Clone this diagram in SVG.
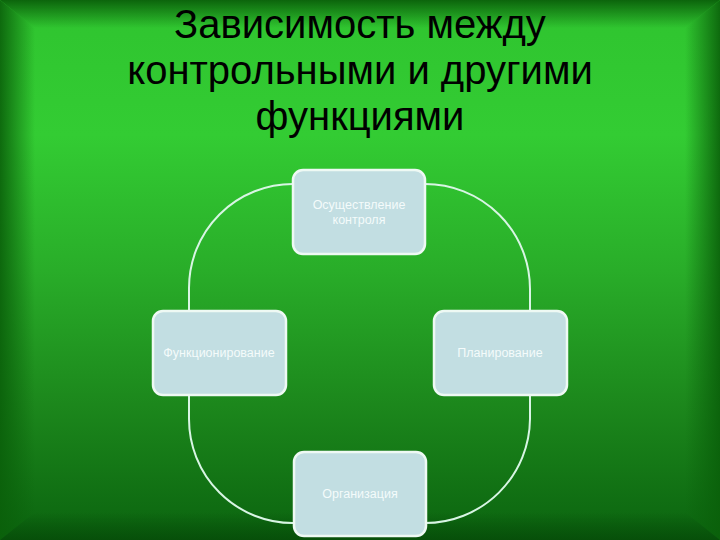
<svg xmlns="http://www.w3.org/2000/svg" width="720" height="540" viewBox="0 0 720 540">
<defs>
<linearGradient id="bg" x1="0" y1="0" x2="0" y2="1">
<stop offset="0" stop-color="#2fc42f"/>
<stop offset="0.25" stop-color="#33cc33"/>
<stop offset="0.5" stop-color="#29ad29"/>
<stop offset="0.75" stop-color="#1c871c"/>
<stop offset="1" stop-color="#0b640f"/>
</linearGradient>
<linearGradient id="edgeT" x1="0" y1="0" x2="0" y2="1">
<stop offset="0" stop-color="#0a600a" stop-opacity="0.95"/>
<stop offset="1" stop-color="#0a600a" stop-opacity="0"/>
</linearGradient>
<linearGradient id="edgeL" x1="0" y1="0" x2="1" y2="0">
<stop offset="0" stop-color="#0a600a" stop-opacity="0.9"/>
<stop offset="1" stop-color="#0a600a" stop-opacity="0"/>
</linearGradient>
<linearGradient id="edgeR" x1="1" y1="0" x2="0" y2="0">
<stop offset="0" stop-color="#0a600a" stop-opacity="0.9"/>
<stop offset="1" stop-color="#0a600a" stop-opacity="0"/>
</linearGradient>
<linearGradient id="edgeB" x1="0" y1="1" x2="0" y2="0">
<stop offset="0" stop-color="#064a08" stop-opacity="0.8"/>
<stop offset="1" stop-color="#064a08" stop-opacity="0"/>
</linearGradient>
</defs>
<style>
.node{fill:#c2dee2;stroke:#eef9f4;stroke-width:2.5}
.lbl{font-family:"Liberation Sans",Arial,sans-serif;font-size:12.5px;fill:#f4fbfb;text-anchor:middle}
.title{font-family:"Liberation Sans",Arial,sans-serif;font-size:40px;fill:#000;text-anchor:middle}
.conn{fill:none;stroke:#d8f5e4;stroke-width:2}
</style>
<rect x="0" y="0" width="720" height="540" fill="url(#bg)"/>
<polygon points="0,0 720,0 685,28 35,28" fill="url(#edgeT)"/>
<polygon points="0,0 35,28 35,512 0,540" fill="url(#edgeL)"/>
<polygon points="720,0 685,28 685,512 720,540" fill="url(#edgeR)"/>
<polygon points="0,540 35,512 685,512 720,540" fill="url(#edgeB)"/>
<g id="title">
<text class="title" x="360" y="38">Зависимость между</text>
<text class="title" x="360" y="84">контрольными и другими</text>
<text class="title" x="360" y="130">функциями</text>
</g>
<g id="connectors">
<path class="conn" d="M300,184 L293,184 A104,104 0 0 0 189,288 L189,315"/>
<path class="conn" d="M420,184 L425,184 A105,105 0 0 1 530,289 L530,315"/>
<path class="conn" d="M189,390 L189,419 A104,104 0 0 0 293,523 L300,523"/>
<path class="conn" d="M530,390 L530,419 A105,105 0 0 1 425,523 L420,523"/>
</g>
<g id="node-control">
<rect class="node" x="293" y="170" width="132" height="84" rx="10"/>
<text class="lbl" x="359" y="209">Осуществление</text>
<text class="lbl" x="359" y="224">контроля</text>
</g>
<g id="node-functioning">
<rect class="node" x="153" y="311" width="133" height="84" rx="10"/>
<text class="lbl" x="219" y="357">Функционирование</text>
</g>
<g id="node-planning">
<rect class="node" x="434" y="311" width="133" height="84" rx="10"/>
<text class="lbl" x="500" y="357">Планирование</text>
</g>
<g id="node-organization">
<rect class="node" x="294" y="452" width="132" height="84" rx="10"/>
<text class="lbl" x="360" y="498">Организация</text>
</g>
</svg>
